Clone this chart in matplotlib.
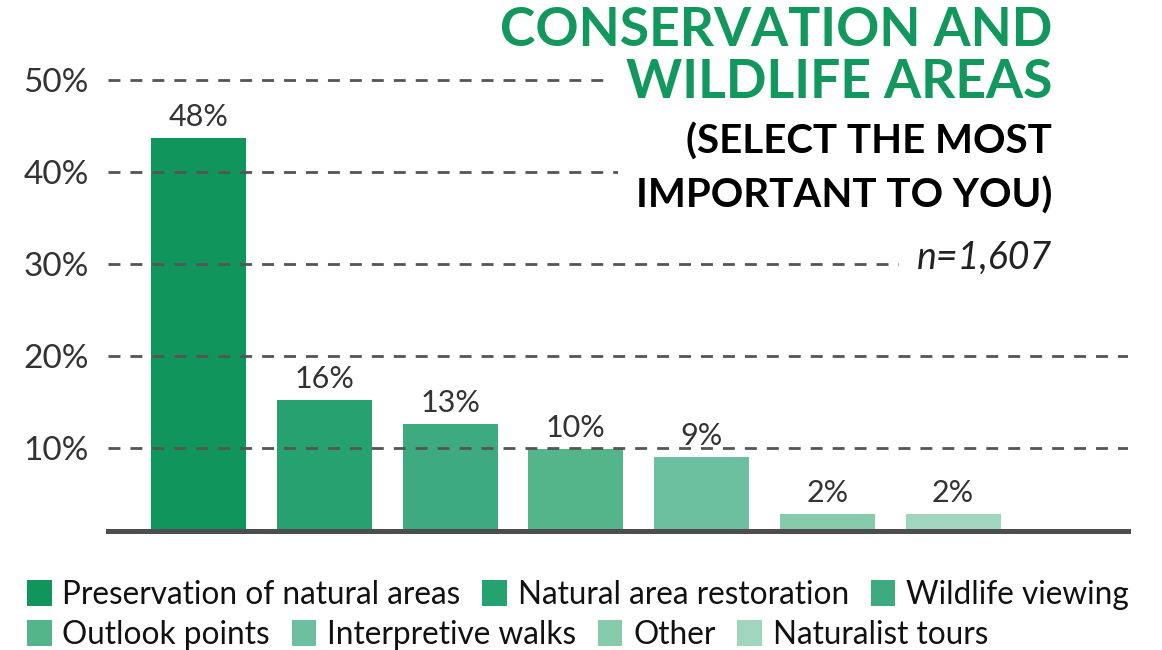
import matplotlib
matplotlib.use("Agg")
import matplotlib.pyplot as plt
from matplotlib.patches import Rectangle

plt.rcParams['font.family'] = ['Lato', 'DejaVu Sans']

categories = ["Preservation of natural areas", "Natural area restoration", "Wildlife viewing",
              "Outlook points", "Interpretive walks", "Other", "Naturalist tours"]
bar_heights = [43.7, 15.2, 12.6, 9.9, 9.0, 2.8, 2.8]
value_labels = ["48%", "16%", "13%", "10%", "9%", "2%", "2%"]
colors = ["#10965c", "#25a26f", "#3dab7f", "#55b58a", "#6cc09f", "#86cbab", "#9fd6bd"]
yticks = [10, 20, 30, 40, 50]
ytick_labels = ["10%", "20%", "30%", "40%", "50%"]
title_lines = ["CONSERVATION AND", "WILDLIFE AREAS"]
subtitle_lines = ["(SELECT THE MOST", "IMPORTANT TO YOU)"]
n_text = "n=1,607"

W, H = 1162, 650
fig = plt.figure(figsize=(W / 100, H / 100), dpi=100)
ax = fig.add_axes([108 / W, 1 - 531 / H, (1128 - 108) / W, (531 - 61.6) / H])

x = list(range(len(categories)))
bars = ax.bar(x, bar_heights, width=0.755, color=colors, zorder=1, label=categories)
for xi, h, lab in zip(x, bar_heights, value_labels):
    ax.annotate(lab, (xi, h), xytext=(0, 5), textcoords='offset points',
                ha='center', va='bottom', fontsize=22, color='#333333')

ax.set_xlim(-0.72, 7.39)
ax.set_ylim(0.98, 52)
ax.set_yticks(yticks)
ax.set_yticklabels(ytick_labels, fontsize=24, color='#333333')
ax.set_xticks([])
ax.tick_params(axis='y', length=0, pad=14)
ax.set_axisbelow(False)
ax.yaxis.grid(True, color='#555555', linewidth=2.0, dashes=(4.3, 3.6))
for s in ['top', 'left', 'right']:
    ax.spines[s].set_visible(False)
ax.spines['bottom'].set_color('#4d4d4d')
ax.spines['bottom'].set_linewidth(3.6)
ax.spines['bottom'].set_zorder(3)

green = "#12985d"
texts = []
texts.append(fig.text(1052 / W, 1 - 30 / H, title_lines[0], ha='right', va='center', fontsize=38.5,
                      fontweight='bold', color=green, zorder=5))
texts.append(fig.text(1052 / W, 1 - 82 / H, title_lines[1], ha='right', va='center', fontsize=38.5,
                      fontweight='bold', color=green, zorder=5))
texts.append(fig.text(1052 / W, 1 - 142 / H, subtitle_lines[0], ha='right', va='center', fontsize=29,
                      fontweight='bold', color='black', zorder=5))
texts.append(fig.text(1052 / W, 1 - 196 / H, subtitle_lines[1], ha='right', va='center', fontsize=29,
                      fontweight='bold', color='black', zorder=5))
texts.append(fig.text(1052 / W, 1 - 258 / H, n_text, ha='right', va='center', fontsize=27,
                      style='italic', color='#222222', zorder=5))

# white backing behind each title line, extending to the right edge (hides gridlines)
fig.canvas.draw()
renderer = fig.canvas.get_renderer()
for t in texts:
    bb = t.get_window_extent(renderer)
    pad_x, pad_y = 18, 6
    fig.patches.append(Rectangle(((bb.x0 - pad_x) / W, (bb.y0 - pad_y) / H),
                                 (W - bb.x0 + pad_x) / W, (bb.height + 2 * pad_y) / H,
                                 transform=fig.transFigure, facecolor='white',
                                 edgecolor='none', zorder=4))

handles = list(bars.patches)
common = dict(frameon=False, fontsize=22.7, handlelength=0.78, handleheight=0.88,
              handletextpad=0.34, columnspacing=0.69, borderpad=0, borderaxespad=0)
leg1 = fig.legend(handles[:3], categories[:3], loc='center left',
                  bbox_to_anchor=(27 / W, 1 - 595 / H), ncol=3, **common)
leg2 = fig.legend(handles[3:], categories[3:], loc='center left',
                  bbox_to_anchor=(27 / W, 1 - 635 / H), ncol=4, **common)
for leg in (leg1, leg2):
    for t in leg.get_texts():
        t.set_color('#111111')

fig.savefig("out.png", dpi=100)
